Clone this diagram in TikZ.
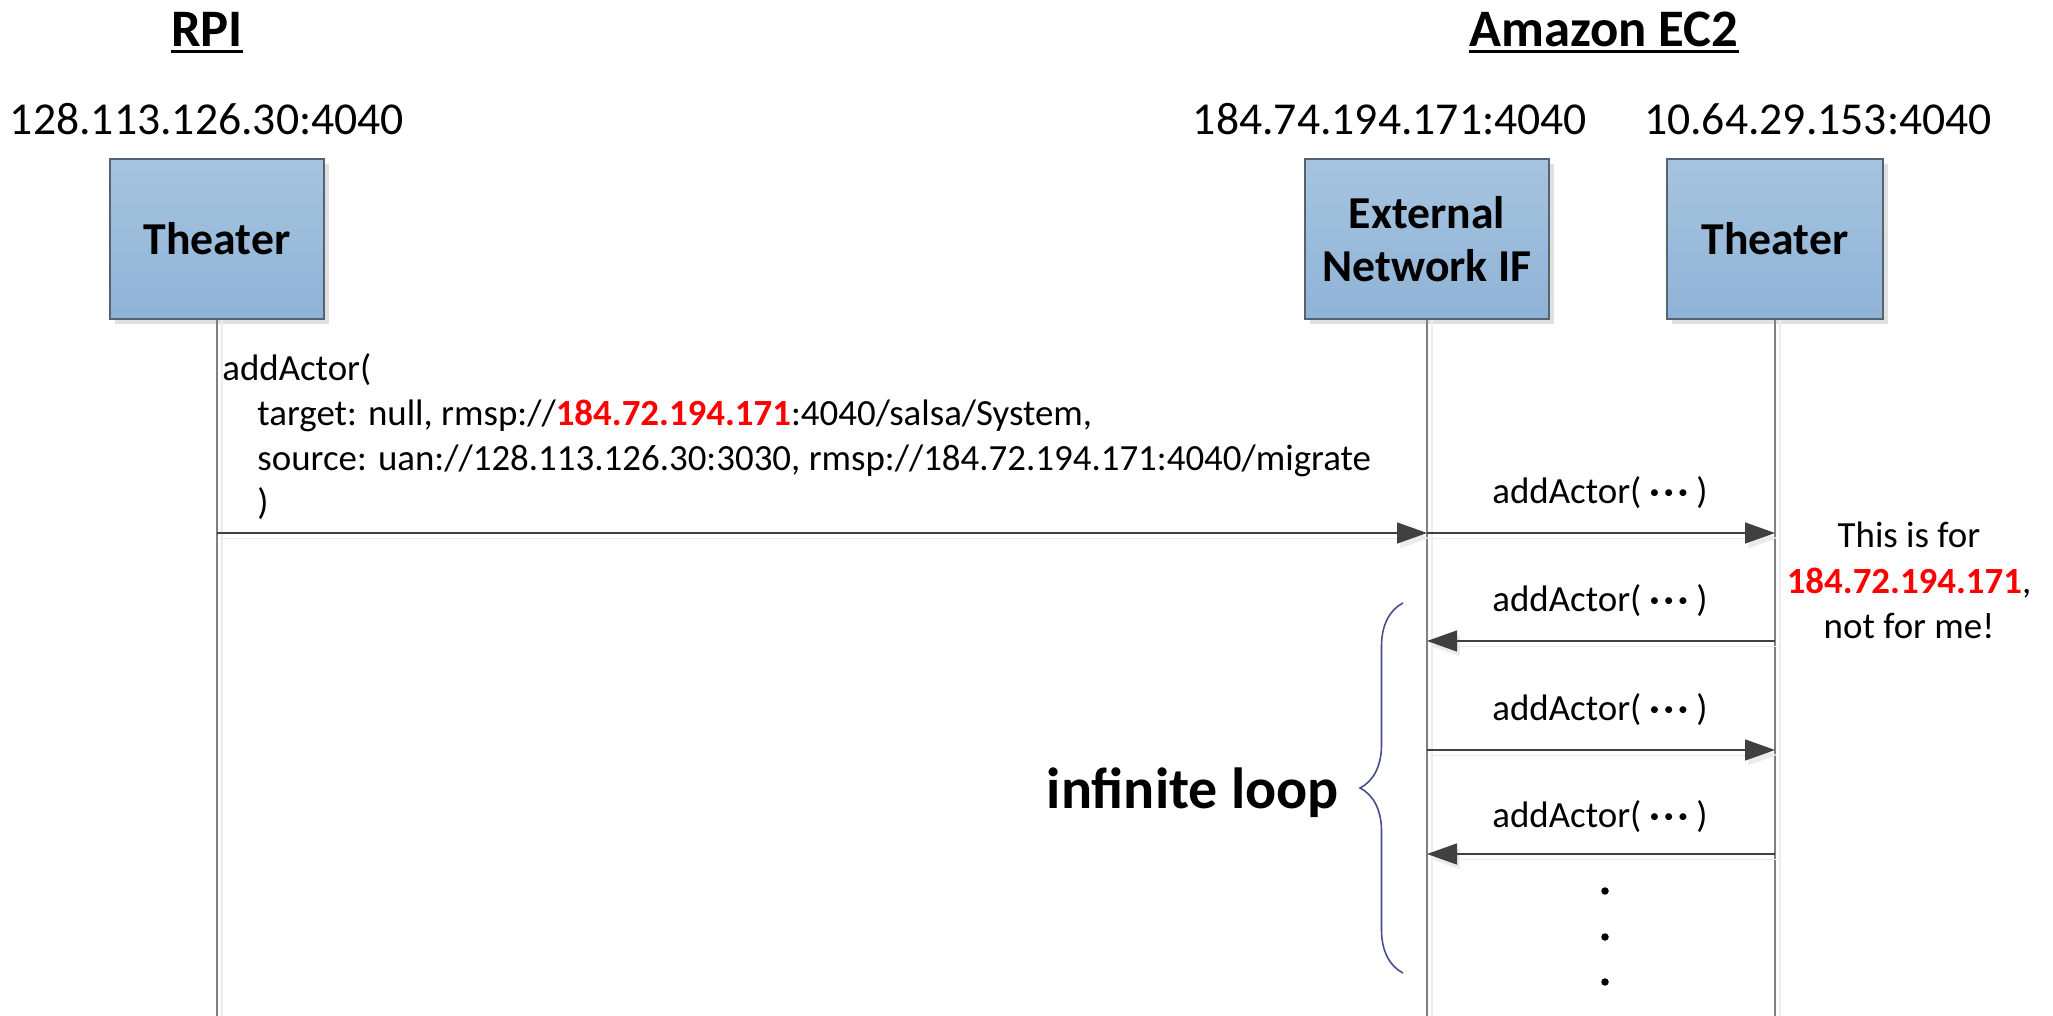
\documentclass[tikz,border=0pt]{standalone}
\usepackage{fontspec}
\setmainfont{Carlito}
\usetikzlibrary{arrows.meta,decorations.pathreplacing,shadows}
\definecolor{boxtop}{RGB}{166,196,224}
\definecolor{boxbot}{RGB}{143,179,214}
\definecolor{boxline}{RGB}{84,98,114}
\definecolor{msgline}{RGB}{64,64,64}
\definecolor{bracecol}{RGB}{70,78,140}
\def\etc{\textbf{·\kern2.5pt·\kern2.5pt·}}
\tikzset{
	actor/.style={draw=boxline, line width=0.8pt, top color=boxtop, bottom color=boxbot, minimum height=3.2cm, align=center, inner sep=0pt, font=\fontsize{26}{30}\selectfont\bfseries, drop shadow={shadow xshift=0.1cm, shadow yshift=-0.1cm, fill=black!12, opacity=1}},
	lifeline/.style={draw=black!50, line width=0.6pt, preaction={draw=black!7, line width=0.8pt, transform canvas={xshift=0.1cm}}},
	msg/.style={draw=msgline, line width=0.75pt, -{Triangle[length=0.6cm,width=0.42cm]}, preaction={draw=black!8, transform canvas={xshift=0.06cm,yshift=-0.1cm}}},
	msgtext/.style={inner sep=0pt, font=\fontsize{21}{25.5}\selectfont},
	title/.style={inner sep=0pt, font=\fontsize{30}{36}\selectfont\bfseries},
	ipaddr/.style={inner sep=0pt, font=\fontsize{26}{31}\selectfont}
}

\begin{document}
\begin{tikzpicture}[x=0.02cm, y=-0.02cm]
			%%%%% START %%%%%
			\useasboundingbox (0,0) rectangle (2053,1016);
			
			\node[title, anchor=base] (rpiTitle) at (207,47) {RPI};
			\draw[line width=0.06cm] ([yshift=-0.1cm]rpiTitle.base west) -- ([yshift=-0.1cm]rpiTitle.base east);
			\node[title, anchor=base] (ecTitle) at (1604,47) {Amazon EC2};
			\draw[line width=0.06cm] ([yshift=-0.1cm]ecTitle.base west) -- ([yshift=-0.1cm]ecTitle.base east);
			
			\node[ipaddr, anchor=base] (rpiAddr) at (207,135) {128.113.126.30:4040};
			\node[ipaddr, anchor=base] (extAddr) at (1390,135) {184.74.194.171:4040};
			\node[ipaddr, anchor=base] (ecAddr) at (1818,135) {10.64.29.153:4040};
			
			\node[actor, minimum width=4.28cm] (rpiTheater) at (217,239) {Theater};
			\node[actor, minimum width=4.88cm] (extIF) at (1427,239) {External\\Network IF};
			\node[actor, minimum width=4.32cm] (ecTheater) at (1775,239) {Theater};
			
			\coordinate (lifeEnd) at (0,1016);
			\draw[lifeline] (rpiTheater.south) -- (rpiTheater.south |- lifeEnd);
			\draw[lifeline] (extIF.south) -- (extIF.south |- lifeEnd);
			\draw[lifeline] (ecTheater.south) -- (ecTheater.south |- lifeEnd);
			
			\coordinate (m1) at (0,533);
			\coordinate (m3) at (0,641);
			\coordinate (m4) at (0,750);
			\coordinate (m5) at (0,854);
			
			\draw[msg] (rpiTheater |- m1) -- (extIF |- m1);
			\node[msgtext, align=left, anchor=base west] (call1) at (222,515) {addActor(\\\hspace*{20pt}target: null, rmsp://\textcolor{red}{\textbf{184.72.194.171}}:4040/salsa/System,\\\hspace*{20pt}source: uan://128.113.126.30:3030, rmsp://184.72.194.171:4040/migrate\\\hspace*{20pt})};
			
			\draw[msg] (extIF |- m1) -- (ecTheater |- m1);
			\node[msgtext, anchor=base] (call2) at (1600,504) {addActor( \etc\ )};
			\draw[msg] (ecTheater |- m3) -- (extIF |- m3);
			\node[msgtext, anchor=base] (call3) at (1600,612) {addActor( \etc\ )};
			\draw[msg] (extIF |- m4) -- (ecTheater |- m4);
			\node[msgtext, anchor=base] (call4) at (1600,721) {addActor( \etc\ )};
			\draw[msg] (ecTheater |- m5) -- (extIF |- m5);
			\node[msgtext, anchor=base] (call5) at (1600,827) {addActor( \etc\ )};
			
			\node[msgtext, font=\fontsize{21}{26}\selectfont, align=center, anchor=base] (note) at (1909,639) {This is for\\\textcolor{red}{\textbf{184.72.194.171}},\\not for me!};
			
			\fill (1605,891) circle (0.075cm);
			\fill (1605,937) circle (0.075cm);
			\fill (1605,982) circle (0.075cm);
			
			\draw[bracecol, line width=0.9pt, decorate, decoration={brace, amplitude=0.86cm}] (1403,973) -- (1403,603);
			\node[inner sep=0pt, font=\fontsize{33}{40}\selectfont\bfseries, anchor=base east] (loopLbl) at (1339,808) {infinite loop};
			
			%%%%% END %%%%%
\end{tikzpicture}
\end{document}
